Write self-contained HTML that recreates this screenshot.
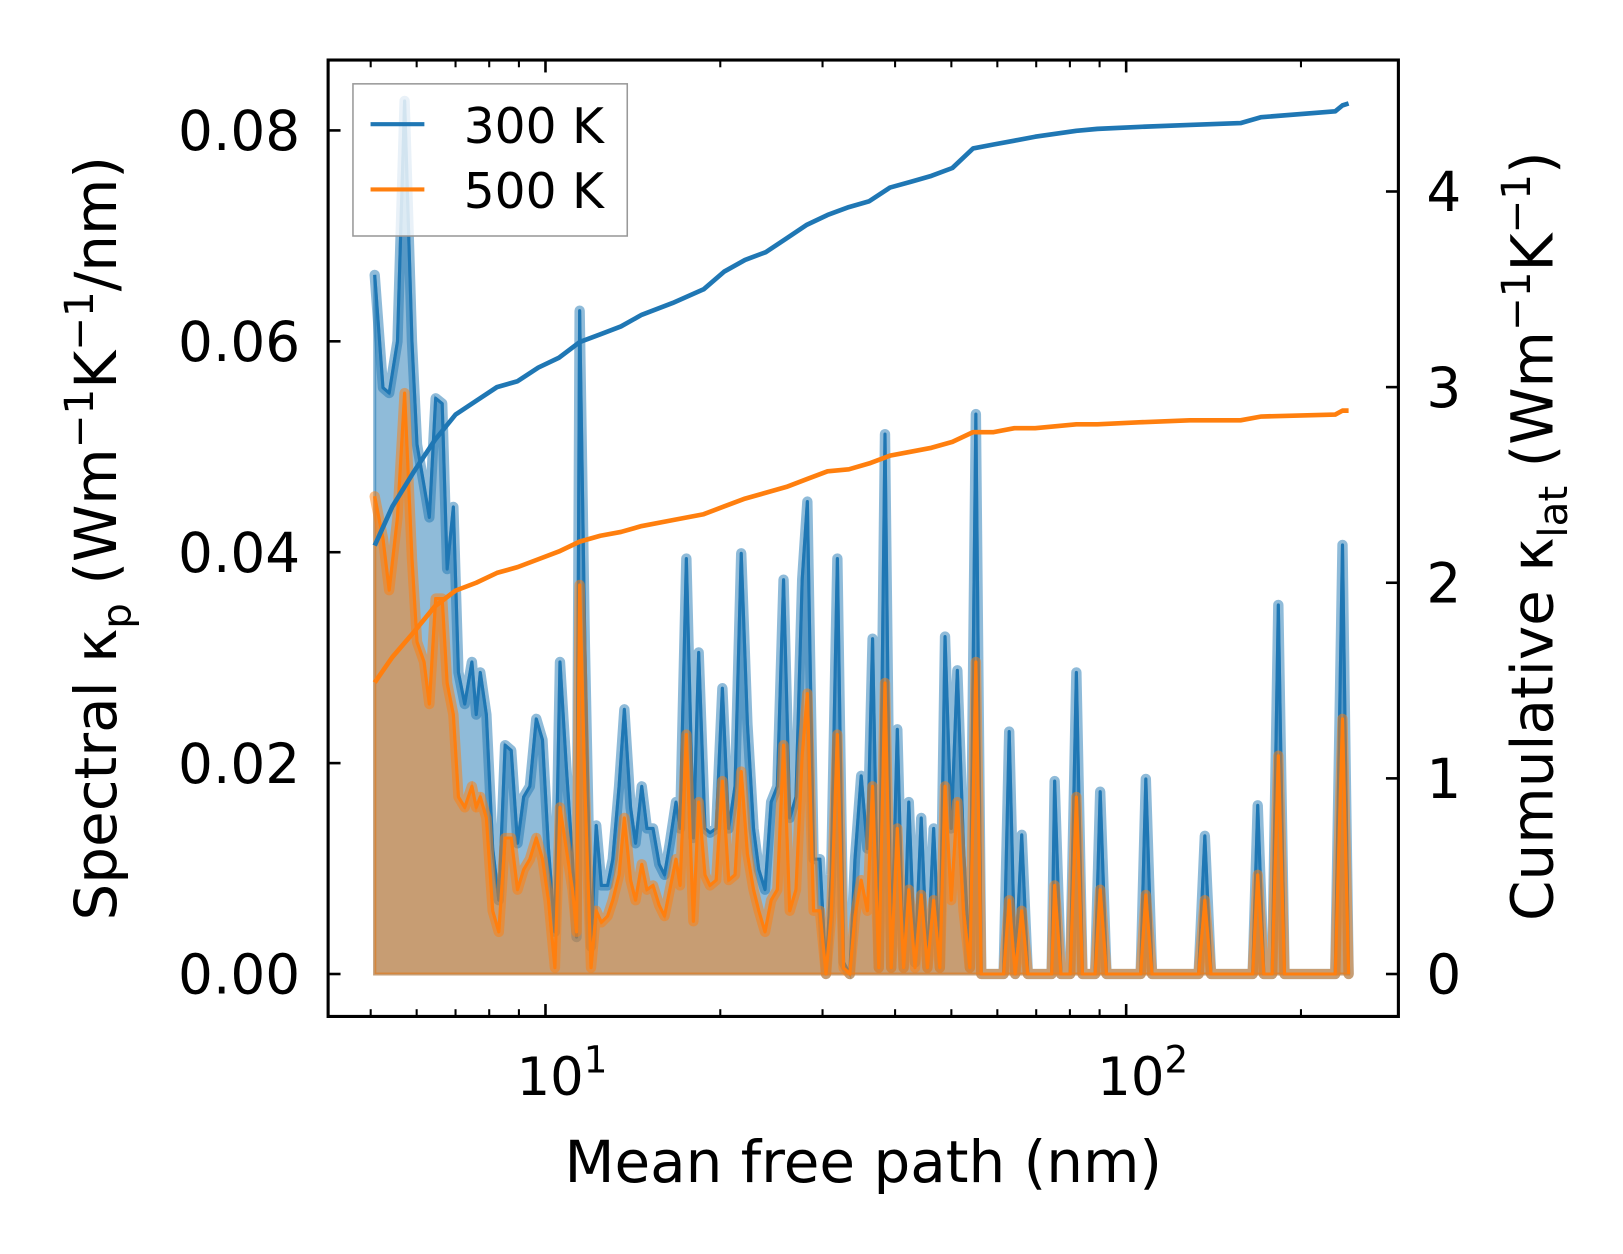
<!DOCTYPE html>
<html><head><meta charset="utf-8"><style>
html,body{margin:0;padding:0;background:#fff;}
svg{display:block;}
text{font-family:"DejaVu Sans","Liberation Sans",sans-serif;fill:#000;}
</style></head><body>
<svg id="chart" xmlns="http://www.w3.org/2000/svg" width="1623" height="1254" viewBox="0 0 1568 1211.5">
<g id="plot"></g>
<rect x="317" y="58" width="1034" height="924" fill="none" stroke="#000" stroke-width="3"/>
<g id="axes"></g>
<text x="834" y="1142" font-size="56" text-anchor="middle">Mean free path (nm)</text>
<text transform="translate(112,520) rotate(-90)" font-size="56" text-anchor="middle">Spectral κ<tspan font-size="39" dy="14">p</tspan><tspan dy="-14"> (Wm</tspan><tspan font-size="39" dy="-22">−1</tspan><tspan dy="22">K</tspan><tspan font-size="39" dy="-22">−1</tspan><tspan dy="22">/nm)</tspan></text>
<text transform="translate(1500,518) rotate(-90)" font-size="56" text-anchor="middle">Cumulative κ<tspan font-size="39" dy="14">lat</tspan><tspan dy="-14"> (Wm</tspan><tspan font-size="39" dy="-22">−1</tspan><tspan dy="22">K</tspan><tspan font-size="39" dy="-22">−1</tspan><tspan dy="22">)</tspan></text>
<g>
<rect x="341" y="81" width="265" height="147" fill="#fff" fill-opacity="0.8" stroke="#999" stroke-width="1.5"/>
<g><line x1="358" y1="120" x2="410" y2="120" stroke="#1f77b4" stroke-width="4"/><text x="448" y="138" font-size="47">300 K</text></g>
<g><line x1="358" y1="183" x2="410" y2="183" stroke="#ff7f0e" stroke-width="4"/><text x="448" y="201" font-size="47">500 K</text></g>
</g>
</svg>
<script>
// spectral data: mean free path (nm), spectral kappa in units of 1e-3 W m^-1 K^-1 / nm
const mfp = [5.08,5.25,5.38,5.56,5.72,5.89,6.01,6.18,6.31,6.47,6.64,6.77,6.94,7.08,7.26,7.47,7.60,7.72,7.91,8.11,8.31,8.52,8.73,8.95,9.17,9.40,9.64,9.88,10.12,10.38,10.59,10.86,11.13,11.31,11.45,11.69,11.98,12.23,12.48,12.79,13.06,13.39,13.67,14.01,14.29,14.65,14.95,15.32,15.70,16.03,16.37,16.78,17.05,17.48,17.98,18.36,18.82,19.20,19.68,20.17,20.68,21.20,21.73,22.27,22.82,23.30,23.88,24.47,25.08,25.70,26.34,27.00,27.67,28.25,28.95,29.68,30.41,31.05,31.82,32.61,33.42,34.12,34.97,35.84,36.59,37.50,38.43,39.39,40.36,41.38,42.23,43.29,44.36,45.47,46.60,47.76,48.75,49.97,51.21,52.48,53.8,55.1,56.3,61.5,62.9,64.4,66.1,67.7,74.4,75.3,77.2,80.1,82.1,84.1,88.4,90.2,92.5,105.9,108.1,110.8,133.3,136.6,140.0,165.1,168.5,172.6,178.4,182.8,187.4,229.1,235.8,241.6];
const spec300 = [66.3,55.6,55.1,60.0,82.8,60.0,50.2,46.3,43.3,54.6,54.1,38.4,44.3,28.6,25.6,29.6,24.6,28.6,24.6,11.9,7.0,21.7,21.2,12.4,16.8,17.8,24.2,22.2,11.9,4.0,29.6,19.7,10.9,3.5,62.9,31.5,2.6,14.1,8.4,8.4,10.9,17.8,25.1,15.8,12.4,17.8,13.8,13.8,10.4,9.4,12.4,16.3,13.8,39.4,12.9,30.5,13.8,13.4,13.8,27.1,13.8,17.8,39.9,23.7,13.8,9.9,8.0,16.3,17.8,37.4,14.8,16.8,37.4,44.8,10.9,10.9,0,9.4,39.4,1.1,0,10.9,18.8,11.9,31.8,0.6,51.2,0.6,23.2,0.6,16.3,1.1,14.8,0.6,13.8,0.6,32.0,13.8,28.8,11.9,0.6,53.1,0,0,23.0,0,13.2,0,0,18.3,0,0,28.6,0,0,17.3,0,0,18.5,0,0,13.1,0,0,16.0,0,0,35.0,0,0,40.7,0];
const spec500 = [45.3,41.3,36.4,43.3,55.1,39.4,31.5,29.6,25.6,35.6,35.6,27.6,24.6,16.8,15.8,17.8,15.8,16.8,14.8,6.0,4.0,12.9,12.9,8.0,9.9,10.9,12.9,10.9,7.0,0.6,15.8,11.9,8.0,4.0,36.9,17.8,0.6,6.0,4.9,5.5,7.0,9.4,14.8,8.9,7.0,10.4,8.0,8.4,6.5,5.5,8.0,10.9,8.4,22.7,5.0,16.3,9.4,8.4,8.9,18.3,8.9,9.4,19.2,11.4,8.0,6.0,4.0,7.0,8.0,21.7,6.0,8.0,20.7,26.6,6.0,6.0,0,5.5,22.7,0.6,0,5.5,8.9,6.0,17.8,0.6,27.6,0.6,13.8,0.6,8.0,0.6,7.5,0.6,7.0,0.6,17.8,7.0,16.3,6.0,0.6,29.6,0,0,7.0,0,6.0,0,0,8.4,0,0,16.8,0,0,8.0,0,0,7.5,0,0,7.0,0,0,9.4,0,0,20.7,0,0,24.2,0];
// cumulative kappa_lat (W m^-1 K^-1)
const cumMfp = [5.08,5.45,5.94,6.45,7.00,7.60,8.25,8.95,9.72,10.55,11.45,12.43,13.49,14.65,16.56,18.72,20.3,22.06,23.95,26.0,28.2,30.6,33.3,36.1,39.2,42.6,46.2,50.2,54.5,59.1,64.2,69.7,82.1,89.2,105.2,128.7,157.4,170.9,229.1,235.8,241.6];
const cum300 = [2.19,2.39,2.57,2.73,2.86,2.93,3.00,3.03,3.10,3.15,3.23,3.27,3.31,3.37,3.43,3.50,3.59,3.65,3.69,3.76,3.83,3.88,3.92,3.95,4.02,4.05,4.08,4.12,4.22,4.24,4.26,4.28,4.31,4.32,4.33,4.34,4.35,4.38,4.41,4.44,4.45];
const cum500 = [1.49,1.62,1.75,1.88,1.96,2.00,2.05,2.08,2.12,2.16,2.21,2.24,2.26,2.29,2.32,2.35,2.39,2.43,2.46,2.49,2.53,2.57,2.58,2.61,2.65,2.67,2.69,2.72,2.77,2.77,2.79,2.79,2.81,2.81,2.82,2.83,2.83,2.85,2.86,2.88,2.88];
const leftTicks = ["0.00","0.02","0.04","0.06","0.08"];
const rightTicks = ["0","1","2","3","4"];
const xMajor = [10,100];
const xMinor = [5,6,7,8,9,20,30,40,50,60,70,80,90,200];

const NS="http://www.w3.org/2000/svg";
function X(v){return 527+(Math.log10(v)-1)*561;}
function YL(v){return 941-v/0.02*203.75;}
function YR(v){return 941-v*189;}
function mk(tag,attrs,parent){const e=document.createElementNS(NS,tag);for(const k in attrs)e.setAttribute(k,attrs[k]);parent.appendChild(e);return e;}
const plot=document.getElementById('plot');
const axes=document.getElementById('axes');

function linePts(xs,ys,fy){return xs.map((x,i)=>X(x).toFixed(1)+","+fy(ys[i]).toFixed(1)).join(" ");}
function fillPts(xs,ys,fy){const base=YL(0);return X(xs[0]).toFixed(1)+","+base+" "+linePts(xs,ys,fy)+" "+X(xs[xs.length-1]).toFixed(1)+","+base;}
const fyS=v=>YL(v/1000);

let e;
e=mk('polygon',{points:fillPts(mfp,spec300,fyS),fill:'rgba(31,119,180,0.5)',stroke:'rgba(31,119,180,0.5)','stroke-width':3},plot);


e=mk('polyline',{points:linePts(mfp,spec300,fyS),fill:'none',stroke:'rgba(31,119,180,0.5)','stroke-width':10,'stroke-linejoin':'round','stroke-linecap':'round'},plot);


e=mk('polyline',{points:linePts(mfp,spec300,fyS),fill:'none',stroke:'#1f77b4','stroke-width':3,'stroke-linejoin':'round'},plot);


e=mk('polygon',{points:fillPts(mfp,spec500,fyS),fill:'rgba(255,127,14,0.5)',stroke:'rgba(255,127,14,0.5)','stroke-width':3},plot);


e=mk('polyline',{points:linePts(mfp,spec500,fyS),fill:'none',stroke:'rgba(255,127,14,0.5)','stroke-width':10,'stroke-linejoin':'round','stroke-linecap':'round'},plot);


e=mk('polyline',{points:linePts(mfp,spec500,fyS),fill:'none',stroke:'#ff7f0e','stroke-width':3,'stroke-linejoin':'round'},plot);


e=mk('polyline',{points:linePts(cumMfp,cum300,YR),fill:'none',stroke:'#1f77b4','stroke-width':4.5,'stroke-linejoin':'round'},plot);


e=mk('polyline',{points:linePts(cumMfp,cum500,YR),fill:'none',stroke:'#ff7f0e','stroke-width':4.5,'stroke-linejoin':'round'},plot);



leftTicks.forEach(t=>{const y=YL(parseFloat(t));
  e=mk('line',{x1:317,x2:329,y1:y,y2:y,stroke:'#000','stroke-width':2.5},axes);
  
  
  e=mk('text',{x:290,y:y+19,'font-size':53,'text-anchor':'end'},axes);e.textContent=t;
  
  
});
rightTicks.forEach(t=>{const y=YR(parseFloat(t));
  e=mk('line',{x1:1339,x2:1351,y1:y,y2:y,stroke:'#000','stroke-width':2.5},axes);
  
  
  e=mk('text',{x:1378,y:y+19,'font-size':53},axes);e.textContent=t;
  
  
});
xMajor.forEach(v=>{const x=X(v);
  [[982,970],[58,70]].forEach(p=>{e=mk('line',{x1:x,x2:x,y1:p[0],y2:p[1],stroke:'#000','stroke-width':2.5},axes);
  
  });
  e=mk('text',{x:x+16,y:1058,'font-size':51,'text-anchor':'middle'},axes);
  
  
  const ts=mk('tspan',{},e);ts.textContent="10";
  const sp=mk('tspan',{'font-size':36,dy:-22},e);sp.textContent=String(Math.round(Math.log10(v)));
});
xMinor.forEach(v=>{const x=X(v);
  [[982,975],[58,65]].forEach(p=>{e=mk('line',{x1:x,x2:x,y1:p[0],y2:p[1],stroke:'#000','stroke-width':2},axes);
  
  });
});
</script>
</body></html>
